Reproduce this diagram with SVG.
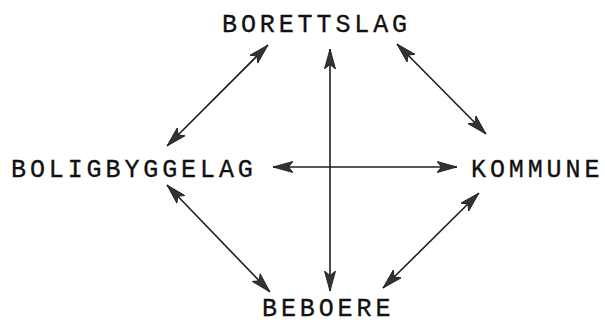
<svg xmlns="http://www.w3.org/2000/svg" width="605" height="323" viewBox="0 0 605 323">
<style>
.lbl{font-family:"Liberation Mono","Courier New",monospace;font-size:25px;letter-spacing:3.9px;fill:#111;stroke:#111;stroke-width:0.35}
.c{stroke:#1e1e1e;stroke-width:1.6;fill:none;marker-start:url(#ah);marker-end:url(#ah)}
</style>
<defs>
<marker id="ah" markerUnits="userSpaceOnUse" markerWidth="20" markerHeight="12" viewBox="0 0 18 10" refX="18" refY="5" orient="auto-start-reverse">
<path d="M0,0 L18,5 L0,10 L4,5 z" fill="#333" stroke="#1e1e1e" stroke-width="0.8"/>
</marker>
</defs>
<rect width="605" height="323" fill="#fff"/>
<g id="connectors">
<line class="c" x1="167" y1="146" x2="268" y2="45"/>
<line class="c" x1="397" y1="44" x2="486" y2="134"/>
<line class="c" x1="330" y1="49" x2="330" y2="291"/>
<line class="c" x1="273" y1="167" x2="457" y2="167"/>
<line class="c" x1="167" y1="185" x2="270" y2="292"/>
<line class="c" x1="479" y1="193" x2="383" y2="288"/>
</g>
<g id="borettslag"><text class="lbl" x="222" y="32">BORETTSLAG</text></g>
<g id="boligbyggelag"><text class="lbl" x="11" y="177">BOLIGBYGGELAG</text></g>
<g id="kommune"><text class="lbl" x="471" y="177">KOMMUNE</text></g>
<g id="beboere"><text class="lbl" x="262" y="316">BEBOERE</text></g>
</svg>
